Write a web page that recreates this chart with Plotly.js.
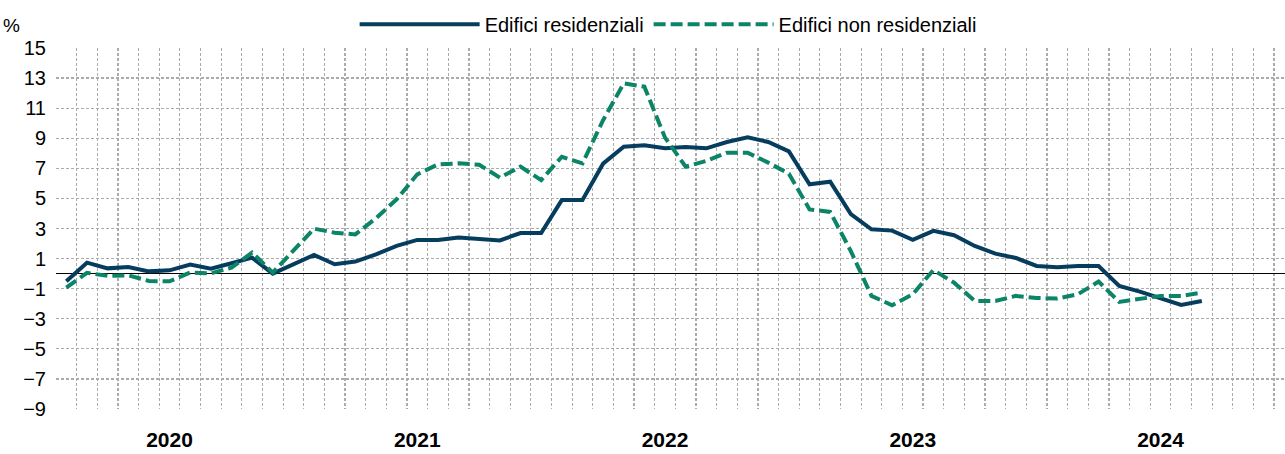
<!DOCTYPE html>
<html>
<head>
<meta charset="utf-8">
<script src="https://cdn.plot.ly/plotly-3.0.1.min.js"></script>
<style>
html,body{margin:0;padding:0;background:#fff;overflow:hidden;}
#chart{width:1285px;height:454px;}
</style>
</head>
<body>
<div id="chart"></div>
<script>
// Months from Jan 2020 to Aug 2024
const months = [
  '2020-01','2020-02','2020-03','2020-04','2020-05','2020-06','2020-07','2020-08','2020-09','2020-10','2020-11','2020-12',
  '2021-01','2021-02','2021-03','2021-04','2021-05','2021-06','2021-07','2021-08','2021-09','2021-10','2021-11','2021-12',
  '2022-01','2022-02','2022-03','2022-04','2022-05','2022-06','2022-07','2022-08','2022-09','2022-10','2022-11','2022-12',
  '2023-01','2023-02','2023-03','2023-04','2023-05','2023-06','2023-07','2023-08','2023-09','2023-10','2023-11','2023-12',
  '2024-01','2024-02','2024-03','2024-04','2024-05','2024-06','2024-07','2024-08'
];
const residenziali = [
  -0.5, 0.73, 0.35, 0.44, 0.15, 0.22, 0.6, 0.33, 0.69, 1.06, 0.0, 0.62,
  1.24, 0.62, 0.8, 1.28, 1.84, 2.24, 2.24, 2.4, 2.33, 2.21, 2.7, 2.7,
  4.89, 4.89, 7.31, 8.44, 8.53, 8.33, 8.42, 8.33, 8.75, 9.06, 8.75, 8.13,
  5.94, 6.11, 3.96, 2.95, 2.86, 2.24, 2.84, 2.55, 1.84, 1.33, 1.04, 0.51,
  0.42, 0.51, 0.51, -0.82, -1.2, -1.66, -2.08, -1.82
];
const nonResidenziali = [
  -0.93, 0.05, -0.15, -0.11, -0.49, -0.51, 0.07, 0.02, 0.4, 1.4, 0.07, 1.5,
  2.99, 2.72, 2.61, 3.68, 4.94, 6.6, 7.26, 7.33, 7.24, 6.38, 7.11, 6.22,
  7.77, 7.33, 10.2, 12.65, 12.43, 9.04, 7.11, 7.49, 8.04, 8.04, 7.38, 6.64,
  4.27, 4.1, 1.5, -1.48, -2.1, -1.37, 0.24, -0.6, -1.82, -1.82, -1.48, -1.62,
  -1.66, -1.37, -0.53, -1.88, -1.71, -1.48, -1.48, -1.26
];
const yearLabels = ['2020','2021','2022','2023','2024'];
const seriesNames = ['Edifici residenziali','Edifici non residenziali'];
const yTicks = [-9,-7,-5,-3,-1,1,3,5,7,9,11,13,15];

const xIdx = months.map((m, i) => i);
const yearPos = yearLabels.map(y => months.indexOf(y + '-06'));

const FONT = '"Liberation Sans Narrow","Arial Narrow","Liberation Sans",Arial,sans-serif';

const traces = [
  {
    x: xIdx, y: residenziali, name: seriesNames[0], type: 'scatter', mode: 'lines',
    line: {color: '#063d5e', width: 4}
  },
  {
    x: xIdx, y: nonResidenziali, name: seriesNames[1], type: 'scatter', mode: 'lines',
    line: {color: '#0b8468', width: 4, dash: '12px,5px'}
  }
];

const layout = {
  width: 1285, height: 454,
  margin: {l: 56, r: 0, t: 48, b: 45},
  paper_bgcolor: '#fff', plot_bgcolor: '#fff',
  font: {family: FONT, size: 20, color: '#000'},
  showlegend: true,
  legend: {
    orientation: 'h', x: 0.243, xanchor: 'left', y: 1.066, yanchor: 'middle',
    font: {family: FONT, size: 20, color: '#000'},
    itemwidth: 120, tracegroupgap: 0, bgcolor: 'rgba(0,0,0,0)'
  },
  xaxis: {
    range: [-0.5, 59.03],
    tickmode: 'array', tickvals: yearPos, ticktext: yearLabels,
    showgrid: false, zeroline: false, showline: false, ticks: '',
    tickfont: {family: FONT, size: 21, color: '#000', weight: 'bold'},
    ticklabelstandoff: 16,
    minor: {dtick: 1, tick0: -0.5, showgrid: true, gridcolor: '#ababab', gridwidth: 1.2, griddash: '3px,2px', ticks: ''},
    fixedrange: true
  },
  yaxis: {
    range: [-9, 15],
    tickmode: 'array', tickvals: yTicks,
    showgrid: true, gridcolor: '#ababab', gridwidth: 1.2, griddash: '3px,2px',
    zeroline: true, zerolinecolor: '#000', zerolinewidth: 1.6,
    showline: false, ticks: 'outside', ticklen: 5, tickcolor: 'rgba(0,0,0,0)',
    tickfont: {family: FONT, size: 20, color: '#000'},
    fixedrange: true
  },
  annotations: [
    {text: '%', xref: 'paper', yref: 'paper', x: -0.036, y: 1.063, xanchor: 'center', yanchor: 'middle',
     showarrow: false, font: {family: FONT, size: 19, color: '#000'}}
  ]
};

Plotly.newPlot('chart', traces, layout, {displayModeBar: false, staticPlot: true});
</script>
</body>
</html>
